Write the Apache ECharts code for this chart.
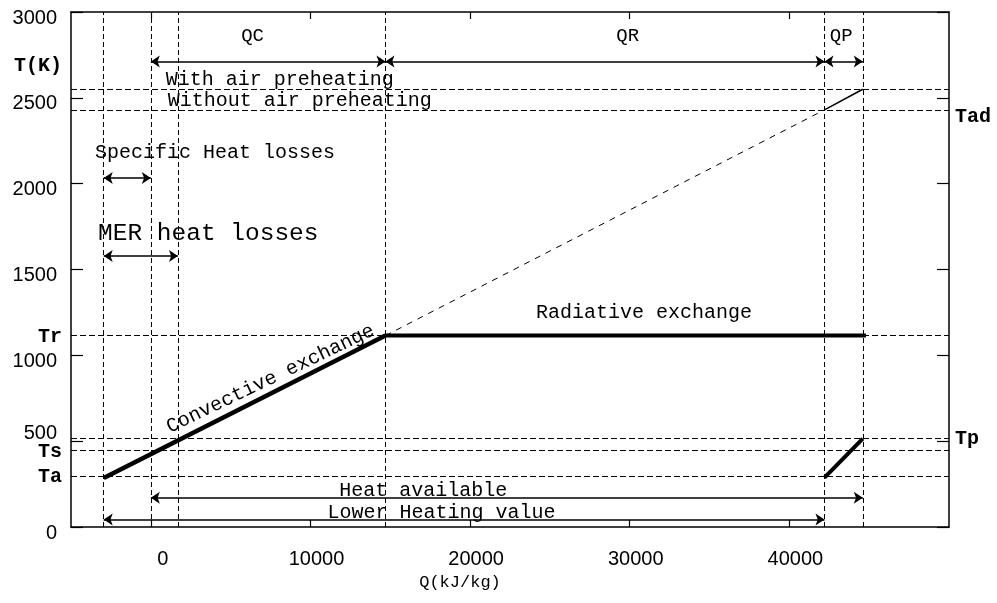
<!DOCTYPE html>
<html><head><meta charset="utf-8">
<script src="https://cdn.jsdelivr.net/npm/echarts@6/dist/echarts.min.js"></script>
<style>html,body{margin:0;padding:0;background:#fff}#c{width:997px;height:603px}</style>
</head><body><div id="c"></div>
<script>
// ---- data ----
const qTickValues = [0, 10000, 20000, 30000, 40000];
const tTickValues = [0, 500, 1000, 1500, 2000, 2500, 3000];
const leftSymbolNames = ['Ta', 'Ts', 'Tr', 'T(K)'];
const leftSymbolValues = [298, 445, 1115, 2690];
const rightSymbolNames = ['Tad', 'Tp'];
const rightSymbolValues = [2430, 518];
const qLevels = [-2950, 0, 1700, 14700, 42200, 44600];
const tLevels = [2550, 2430, 1115, 518, 445, 298];
const convectiveLine = [[-2950, 285], [14700, 1115]];
const radiativeLine = [[14700, 1115], [44800, 1115]];
const adiabaticLine = [[14700, 1115], [42200, 2430]];
const preheatLine = [[42200, 2430], [44600, 2550]];
const fumesLine = [[42200, 288], [44600, 515]];
const spanNames = ['QC', 'QR', 'QP', 'Specific', 'MER', 'Heat available', 'LHV'];
const spanFrom = [0, 14700, 42200, -2950, -2950, 0, -2950];
const spanTo = [14700, 42200, 44600, 0, 1700, 44600, 42200];
const spanLevel = [2712, 2712, 2712, 2033, 1578, 170, 44];
const noteTexts = ['QC', 'QR', 'QP', 'With air preheating', 'Without air preheating',
  'Specific Heat losses', 'MER heat losses', 'Radiative exchange', 'Heat available',
  'Lower Heating value', 'Convective exchange'];
const noteQ = [6375, 29875, 43250, 940, 1060, -3500, -3310, 24125, 11810, 11060, 7500];
const noteT = [2858, 2858, 2858, 2607, 2485, 2183, 1712, 1247, 212, 84, 863];

// ---- styles ----
const MONO = 'Liberation Mono';
const SANS = 'Liberation Sans';
const INK = '#000';
const noteStyle = {
  'QC': {align: 'center', fontSize: 19},
  'QR': {align: 'center', fontSize: 19},
  'QP': {align: 'center', fontSize: 19},
  'MER heat losses': {align: 'left', fontSize: 24.5},
  'Convective exchange': {align: 'center', fontSize: 20, rotate: 25.6}
};

const chart = echarts.init(document.getElementById('c'), null, {renderer: 'canvas'});
const axisLine = {show: true, onZero: false, lineStyle: {color: INK, width: 1.5}};

const option = {
  animation: false,
  backgroundColor: '#fff',
  grid: {left: 71, right: 48, top: 12, bottom: 76, containLabel: false},
  xAxis: [{
    type: 'value', min: -5000, max: 50000, position: 'bottom',
    axisLine: axisLine,
    axisTick: {show: true, inside: true, length: 7, customValues: qTickValues, lineStyle: {color: INK, width: 1.2}},
    axisLabel: {
      customValues: qTickValues, margin: 22,
      formatter: v => (v === 0 ? '{z|' : '{n|') + v + '}',
      rich: {
        n: {fontFamily: SANS, fontSize: 20, color: INK, padding: [0, 0, 0, 12]},
        z: {fontFamily: SANS, fontSize: 20, color: INK, padding: [0, 0, 0, 24]}
      }
    },
    splitLine: {show: false},
    name: 'Q(kJ/kg)', nameLocation: 'middle', nameGap: 44,
    nameTextStyle: {fontFamily: MONO, fontSize: 17, color: INK, padding: [0, 100, 0, 0]}
  }, {
    type: 'value', min: -5000, max: 50000, position: 'top',
    axisLine: axisLine,
    axisTick: {show: true, inside: true, length: 7, customValues: qTickValues, lineStyle: {color: INK, width: 1.2}},
    axisLabel: {show: false},
    splitLine: {show: false}
  }],
  yAxis: [{
    type: 'value', min: 0, max: 3000, interval: 500, position: 'left',
    axisLine: axisLine,
    axisTick: {show: true, inside: true, length: 12, customValues: tTickValues, lineStyle: {color: INK, width: 1.2}},
    axisLabel: {
      customValues: tTickValues.concat(leftSymbolValues), margin: 9,
      formatter: v => {
        const i = leftSymbolValues.indexOf(v);
        if (i >= 0) return '{m|' + leftSymbolNames[i] + '}';
        if (v === 500) return '{f|' + v + '}';
        return '{n|' + v + '}';
      },
      rich: {
        n: {fontFamily: SANS, fontSize: 20, color: INK, padding: [12, 5, 0, 0]},
        f: {fontFamily: SANS, fontSize: 20, color: INK, padding: [0, 5, 16, 0]},
        m: {fontFamily: MONO, fontSize: 20, color: INK, fontWeight: 'bold', padding: [2, 0, 0, 0]}
      }
    },
    splitLine: {show: false}
  }, {
    type: 'value', min: 0, max: 3000, interval: 500, position: 'right',
    axisLine: axisLine,
    axisTick: {show: true, inside: true, length: 12, customValues: tTickValues, lineStyle: {color: INK, width: 1.2}},
    axisLabel: {
      customValues: rightSymbolValues, margin: 6,
      formatter: v => {
        const i = rightSymbolValues.indexOf(v);
        return (i === 0 ? '{d|' : '{m|') + rightSymbolNames[i] + '}';
      },
      rich: {
        d: {fontFamily: MONO, fontSize: 20, color: INK, fontWeight: 'bold', padding: [14, 0, 0, 0]},
        m: {fontFamily: MONO, fontSize: 20, color: INK, fontWeight: 'bold', padding: [2, 0, 0, 0]}
      }
    },
    splitLine: {show: false}
  }],
  series: [
    {
      type: 'line', name: 'adiabatic', data: adiabaticLine, symbol: 'none', z: 3,
      lineStyle: {color: INK, width: 1, type: [6, 6]},
      markLine: {
        silent: true, symbol: 'none', label: {show: false},
        lineStyle: {color: INK, width: 1, type: [6, 3]},
        data: tLevels.map(t => ({yAxis: t})).concat(qLevels.map(q => ({xAxis: q, lineStyle: {color: INK, width: 1, type: [5, 3]}})))
      }
    },
    {
      type: 'line', name: 'radiative', data: radiativeLine, symbol: 'none', z: 5,
      lineStyle: {color: INK, width: 4},
      markLine: {
        silent: true, symbol: ['arrow', 'arrow'], symbolSize: 9, label: {show: false},
        lineStyle: {color: INK, width: 1.5, type: 'solid'},
        data: spanNames.map((n, i) => [{name: n, coord: [spanFrom[i], spanLevel[i]]}, {coord: [spanTo[i], spanLevel[i]]}])
      }
    },
    {
      type: 'line', name: 'convective', data: convectiveLine, symbol: 'none', z: 5,
      lineStyle: {color: INK, width: 4.5},
      markPoint: {
        silent: true, symbol: 'circle', symbolSize: 1, itemStyle: {color: 'rgba(0,0,0,0)'},
        data: noteTexts.map((t, i) => {
          const s = noteStyle[t] || {align: 'left', fontSize: 20};
          return {
            name: t, coord: [noteQ[i], noteT[i]],
            label: {
              show: true, position: 'inside', formatter: p => p.name,
              align: s.align, verticalAlign: 'middle', rotate: s.rotate || 0,
              fontFamily: MONO, fontSize: s.fontSize, color: INK
            }
          };
        })
      }
    },
    {
      type: 'line', name: 'preheat', data: preheatLine, symbol: 'none', z: 5,
      lineStyle: {color: INK, width: 1.5}
    },
    {
      type: 'line', name: 'fumes', data: fumesLine, symbol: 'none', z: 5,
      lineStyle: {color: INK, width: 4}
    }
  ]
};
chart.setOption(option);
</script>
</body></html>
